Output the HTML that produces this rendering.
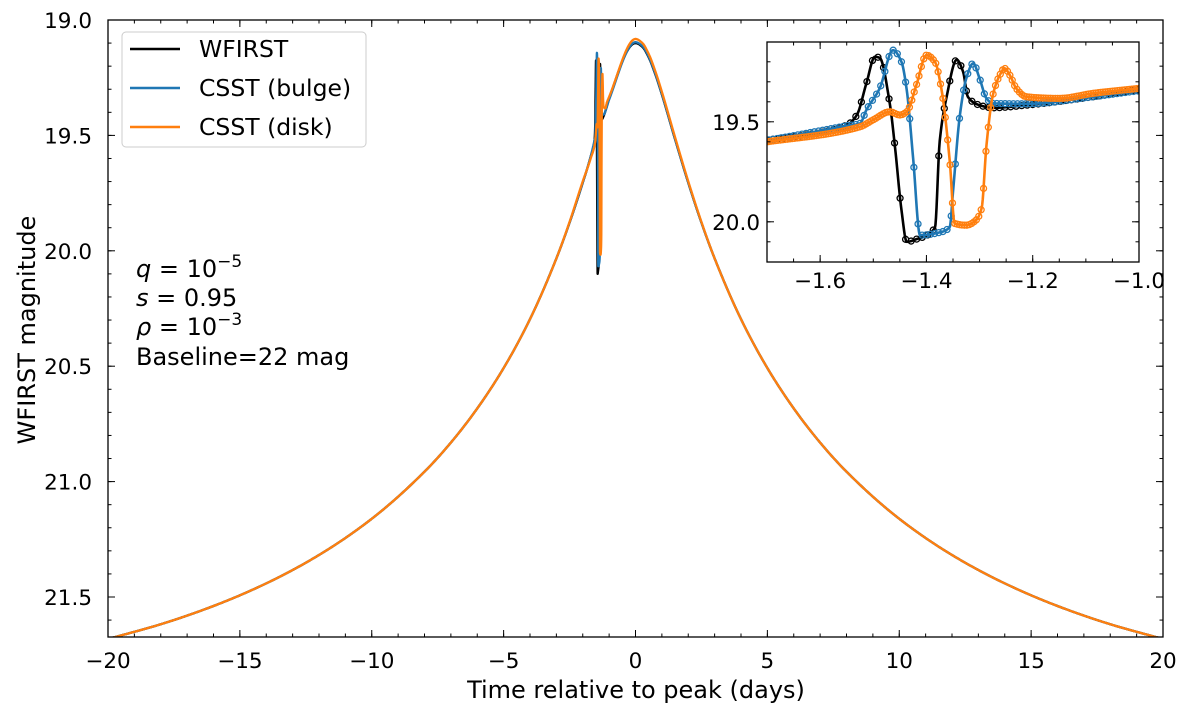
<!DOCTYPE html>
<html><head><meta charset="utf-8"><style>
html,body{margin:0;padding:0;background:#fff;}
svg{display:block;font-family:"DejaVu Sans","Liberation Sans",sans-serif;}
</style></head><body>
<svg id="chart" width="1190" height="710" viewBox="0 0 1190 710"></svg>
<script>
// ---- data ----
const baseTimes = [0,0.25,0.5,0.75,1,1.5,2,2.5,3,4,5,6,7,8,10,12,14,16,18,20];
const baseMags  = [19.100,19.115,19.162,19.235,19.323,19.517,19.705,19.878,20.033,20.296,20.508,20.683,20.831,20.957,21.161,21.318,21.441,21.539,21.618,21.682];
const peakOffsetBlack = 0.0;
const peakOffsetBlue = -0.004;
const peakOffsetOrange = -0.018;
const blackT = [-1.7,-1.55,-1.531,-1.513,-1.497,-1.488,-1.469,-1.459,-1.447,-1.437,-1.419,-1.384,-1.375,-1.362,-1.343,-1.331,-1.322,-1.3,-1.275,-1.212,-1.087,-1.0];
const blackM = [19.592,19.517,19.466,19.308,19.175,19.18,19.408,19.63,19.94,20.10,20.087,20.03,19.597,19.375,19.19,19.25,19.375,19.417,19.43,19.417,19.375,19.34];
const blueT = [-1.7,-1.55,-1.525,-1.513,-1.488,-1.463,-1.447,-1.437,-1.425,-1.412,-1.375,-1.356,-1.35,-1.337,-1.325,-1.312,-1.3,-1.287,-1.275,-1.212,-1.087,-1.0];
const blueM = [19.592,19.52,19.508,19.441,19.333,19.142,19.2,19.342,19.683,20.067,20.053,20.025,19.85,19.466,19.283,19.208,19.283,19.383,19.408,19.41,19.375,19.345];
const orangeT = [-1.7,-1.525,-1.5,-1.469,-1.45,-1.437,-1.419,-1.4,-1.384,-1.372,-1.356,-1.347,-1.325,-1.306,-1.296,-1.287,-1.275,-1.262,-1.253,-1.243,-1.231,-1.212,-1.149,-1.087,-1.0];
const orangeM = [19.6,19.525,19.49,19.45,19.466,19.45,19.317,19.167,19.2,19.333,19.7,20.008,20.017,19.99,19.93,19.617,19.367,19.267,19.233,19.267,19.333,19.375,19.383,19.358,19.333];
const cadences = [0.0104,0.0078,0.0045];
const xTicks = [-20,-15,-10,-5,0,5,10,15,20];
const yTicks = [19.0,19.5,20.0,20.5,21.0,21.5];
const insetXTicks = [-1.6,-1.4,-1.2,-1.0];
const insetYTicks = [19.5,20.0];

const NS="http://www.w3.org/2000/svg";
const svg=document.getElementById('chart');
function mk(tag,attrs,parent){const e=document.createElementNS(NS,tag);for(const k in attrs)e.setAttribute(k,attrs[k]);(parent||svg).appendChild(e);return e;}

const M={l:108,r:1163,t:20,b:637,x0:-20,x1:20,y0:19.0,y1:19.0+617/230.8};
const mx=t=>M.l+(t-M.x0)/(M.x1-M.x0)*(M.r-M.l);
const my=m=>M.t+(m-M.y0)/(M.y1-M.y0)*(M.b-M.t);
const I={l:767,r:1139,t:42,b:262,x0:-1.7,x1:-1.0,y0:19.101,y1:20.201};
const ix=t=>I.l+(t-I.x0)/(I.x1-I.x0)*(I.r-I.l);
const iy=m=>I.t+(m-I.y0)/(I.y1-I.y0)*(I.b-I.t);

function buildSeries(off,aT,aM){
  const pts=[];
  for(let i=baseTimes.length-1;i>=0;i--){const t=-baseTimes[i];if(t<-1.7)pts.push([t,baseMags[i]+off*Math.max(0,1-Math.abs(t)/3)]);}
  for(let i=0;i<aT.length;i++)pts.push([aT[i],aM[i]]);
  for(let i=0;i<baseTimes.length;i++){const t=baseTimes[i];if(t>-1.0)pts.push([t,baseMags[i]+off*Math.max(0,1-Math.abs(t)/3)]);}
  return pts;
}
function makeInterp(pts){
  const n=pts.length,xs=pts.map(p=>p[0]),ys=pts.map(p=>p[1]);
  const d=[],m=new Array(n);
  for(let i=0;i<n-1;i++)d.push((ys[i+1]-ys[i])/(xs[i+1]-xs[i]));
  m[0]=d[0];m[n-1]=d[n-2];
  for(let i=1;i<n-1;i++){ if(d[i-1]*d[i]<=0)m[i]=0; else { const h0=xs[i]-xs[i-1],h1=xs[i+1]-xs[i]; const w1=2*h1+h0,w2=h1+2*h0; m[i]=(w1+w2)/(w1/d[i-1]+w2/d[i]); } }
  return function(t){
    let i=0; while(i<n-2&&t>xs[i+1])i++;
    const h=xs[i+1]-xs[i],s=(t-xs[i])/h;
    const h00=2*s*s*s-3*s*s+1,h10=s*s*s-2*s*s+s,h01=-2*s*s*s+3*s*s,h11=s*s*s-s*s;
    return h00*ys[i]+h10*h*m[i]+h01*ys[i+1]+h11*h*m[i+1];
  };
}
const series=[
  {name:'wfirst',color:'#000000',pts:buildSeries(peakOffsetBlack,blackT,blackM),aT:blackT,aM:blackM},
  {name:'csst-bulge',color:'#1f77b4',pts:buildSeries(peakOffsetBlue,blueT,blueM),aT:blueT,aM:blueM},
  {name:'csst-disk',color:'#ff7f0e',pts:buildSeries(peakOffsetOrange,orangeT,orangeM),aT:orangeT,aM:orangeM}
];
series.forEach(s=>{s.f=makeInterp(s.pts);});
function sampleTimes(a,b,step){const r=[];for(let t=a;t<b;t+=step)r.push(t);r.push(b);return r;}
const mainSamples=[].concat(sampleTimes(-20,-1.7,0.05),sampleTimes(-1.7,-1.0,0.002),sampleTimes(-1.0,20,0.05));
const insetSamples=sampleTimes(-1.75,-0.95,0.001);

const defs=mk('defs',{});
const cp=mk('clipPath',{id:'mainclip'},defs);mk('rect',{x:M.l,y:M.t,width:M.r-M.l,height:M.b-M.t},cp);
const cp2=mk('clipPath',{id:'insetclip'},defs);mk('rect',{x:I.l,y:I.t,width:I.r-I.l,height:I.b-I.t},cp2);

const gMain=mk('g',{'clip-path':'url(#mainclip)'});


series.forEach(s=>{
  const p=mk('polyline',{points:mainSamples.map(t=>mx(t).toFixed(2)+','+my(s.f(t)).toFixed(2)).join(' '),fill:'none',stroke:s.color,'stroke-width':2.3,'stroke-linejoin':'round'},gMain);
  
  
});

function axisFrame(A,fx,fy,xt,yt,xmin,ymin,nameP){
  const f=mk('rect',{x:A.l,y:A.t,width:A.r-A.l,height:A.b-A.t,fill:'none',stroke:'#000','stroke-width':1.3});
  
  
  const g=mk('g',{stroke:'#000','stroke-width':1});
  
  
  xmin.forEach(v=>{const x=fx(v);mk('line',{x1:x,x2:x,y1:A.b,y2:A.b-3.5},g);mk('line',{x1:x,x2:x,y1:A.t,y2:A.t+3.5},g);});
  ymin.forEach(v=>{const y=fy(v);mk('line',{x1:A.l,x2:A.l+3.5,y1:y,y2:y},g);mk('line',{x1:A.r,x2:A.r-3.5,y1:y,y2:y},g);});
  xt.forEach(v=>{const x=fx(v);mk('line',{x1:x,x2:x,y1:A.b,y2:A.b-7},g);mk('line',{x1:x,x2:x,y1:A.t,y2:A.t+7},g);});
  yt.forEach(v=>{const y=fy(v);mk('line',{x1:A.l,x2:A.l+7,y1:y,y2:y},g);mk('line',{x1:A.r,x2:A.r-7,y1:y,y2:y},g);});
}
const xminor=[];for(let v=-20;v<=20;v++)xminor.push(v);
const yminor=[];for(let v=19.0;v<=21.65;v+=0.1)yminor.push(+v.toFixed(2));
axisFrame(M,mx,my,xTicks,yTicks,xminor,yminor,'main-axes');
xTicks.forEach(v=>{const t=mk('text',{x:mx(v),y:668,'font-size':21.5,'text-anchor':'middle'});t.textContent=(v<0?'\u2212'+(-v):String(v));
  
  });
yTicks.forEach(v=>{const t=mk('text',{x:92,y:my(v)+8,'font-size':21.5,'text-anchor':'end'});t.textContent=v.toFixed(1);
  
  });
const xl=mk('text',{x:636,y:698,'font-size':24,'text-anchor':'middle'});xl.textContent='Time relative to peak (days)';


const yl=mk('text',{x:0,y:0,'font-size':24,'text-anchor':'middle',transform:'translate(35,330) rotate(-90)'});yl.textContent='WFIRST magnitude';



const ann=mk('g',{'font-size':24});


ann.innerHTML='<text x="136" y="277"><tspan font-style="italic">q</tspan> = 10<tspan dy="-10" font-size="17">\u22125</tspan></text>'+
'<text x="136" y="306"><tspan font-style="italic">s</tspan> = 0.95</text>'+
'<text x="136" y="335"><tspan font-style="italic">\u03c1</tspan> = 10<tspan dy="-10" font-size="17">\u22123</tspan></text>'+
'<text x="136" y="365">Baseline=22 mag</text>';

const lg=mk('g',{});


mk('rect',{x:122,y:32,width:244,height:115,rx:4,fill:'#fff','fill-opacity':0.8,stroke:'#ccc','stroke-width':1},lg);
const labels=['WFIRST','CSST (bulge)','CSST (disk)'];
series.forEach((s,i)=>{
  const y=49+i*39;
  const e=mk('g',{},lg);
  
  
  mk('line',{x1:130,x2:180,y1:y,y2:y,stroke:s.color,'stroke-width':2.5},e);
  const t=mk('text',{x:199,y:y+8,'font-size':23.5},e);t.textContent=labels[i];
});

const ib=mk('rect',{x:I.l,y:I.t,width:I.r-I.l,height:I.b-I.t,fill:'#fff'});


const gIn=mk('g',{'clip-path':'url(#insetclip)'});


series.forEach((s,si)=>{
  const p=mk('polyline',{points:insetSamples.map(t=>ix(t).toFixed(2)+','+iy(s.f(t)).toFixed(2)).join(' '),fill:'none',stroke:s.color,'stroke-width':2.6,'stroke-linejoin':'round'},gIn);
  
  
  const step=cadences[si];
  for(let t=-1.72;t<=-0.98;t+=step){
    const c=mk('circle',{cx:ix(t).toFixed(2),cy:iy(s.f(t)).toFixed(2),r:3,fill:'none',stroke:s.color,'stroke-width':1.3},gIn);
    
    
  }
});
const ixminor=[];for(let v=-1.7;v<=-0.999;v+=0.05)ixminor.push(+v.toFixed(3));
const iyminor=[];for(let v=19.2;v<=20.15;v+=0.1)iyminor.push(+v.toFixed(2));
axisFrame(I,ix,iy,insetXTicks,insetYTicks,ixminor,iyminor,'inset-axes');
insetXTicks.forEach(v=>{const t=mk('text',{x:ix(v),y:288,'font-size':21.5,'text-anchor':'middle'});t.textContent='\u2212'+(-v).toFixed(1);
  
  });
insetYTicks.forEach(v=>{const t=mk('text',{x:760,y:iy(v)+8,'font-size':21.5,'text-anchor':'end'});t.textContent=v.toFixed(1);
  
  });
</script>
</body></html>
